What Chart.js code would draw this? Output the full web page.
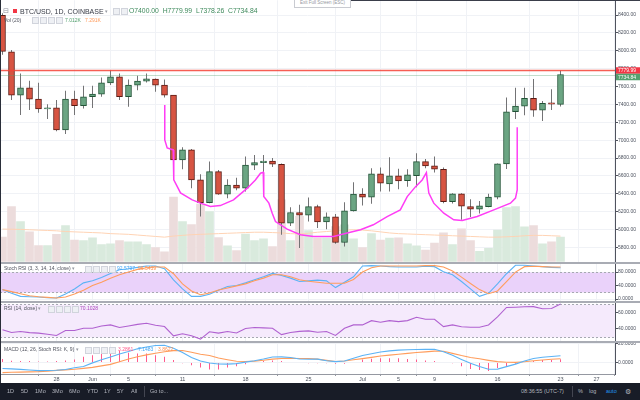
<!DOCTYPE html>
<html>
<head>
<meta charset="utf-8">
<script src="https://cdn.jsdelivr.net/npm/chart.js@4.4.0/dist/chart.umd.min.js"></script>
<style>
  body { margin: 0; width: 640px; height: 400px; overflow: hidden; background: #fff; position: relative; font-family: "Liberation Sans", Arial, sans-serif; }
  canvas { position: absolute; left: 0; }
  .t { position: absolute; white-space: nowrap; line-height: 1; transform: translateY(-50%); }
  .s5 { font-size: 5px; color: #50535e; }
  .ic { display: inline-block; width: 5px; height: 5px; border: 1px solid #d1d4dc; background: #eef0f4; margin-right: 1px; vertical-align: middle; }
  .sep { position: absolute; left: 0; width: 640px; background: #a9acb4; }
  .bar { position: absolute; left: 0; top: 383px; width: 640px; height: 17px; background: #181c27; }
  .tb { position: absolute; top: 391.5px; transform: translateY(-50%); font-size: 5.5px; color: #b2b5be; white-space: nowrap; line-height: 1; }
</style>
</head>
<body>
<canvas id="price" width="640" height="262" style="top:0"></canvas>
<canvas id="stoch" width="640" height="38" style="top:263px"></canvas>
<canvas id="rsi" width="640" height="39" style="top:302px"></canvas>
<canvas id="macd" width="640" height="41" style="top:342px"></canvas>

<div class="sep" style="top:262px;height:1.5px"></div>
<div class="sep" style="top:301px;height:1.5px"></div>
<div class="sep" style="top:341px;height:1.5px"></div>
<div style="position:absolute;left:0;top:0;width:1px;height:383px;background:#2a2e39"></div>
<div style="position:absolute;left:350px;top:0;width:290px;height:1px;background:#3a3e4a"></div>
<div style="position:absolute;left:294px;top:-2px;width:55px;height:8px;border:1px solid #c9cbd1;background:#fff;font-size:4.5px;color:#9598a1;line-height:8px;text-align:center">Exit Full Screen (ESC)</div>

<!-- main header -->
<div class="t" style="left:3px;top:10.7px;font-size:7px;color:#8a8e99;font-family:'DejaVu Sans'">⊟</div>
<div style="position:absolute;left:13px;top:9px;width:3.5px;height:3.5px;background:#f23645"></div>
<div class="t" style="left:20px;top:10.7px;font-size:7px;color:#363a45">BTC/USD, 1D, COINBASE</div>
<div class="t" style="left:105px;top:10.7px;font-size:5px;color:#9598a1">▾</div>
<div class="t" style="left:113px;top:10.7px"><span class="ic"></span><span class="ic"></span></div>
<div class="t" style="left:129px;top:10.7px;font-size:6.8px;color:#3e8a5c">O7400.00&nbsp;&nbsp;H7779.99&nbsp;&nbsp;L7378.26&nbsp;&nbsp;C7734.84</div>

<div class="t s5" style="left:4px;top:19.5px">Vol (20)</div>
<div class="t" style="left:32px;top:19.5px"><span class="ic"></span><span class="ic"></span><span class="ic"></span><span class="ic"></span></div>
<div class="t s5" style="left:65px;top:19.5px;color:#53a06e">7.012K</div>
<div class="t s5" style="left:85px;top:19.5px;color:#ff9a5a">7.291K</div>

<!-- pane labels -->
<div class="t s5" style="left:4px;top:268.3px">Stoch RSI (3, 3, 14, 14, close) <span style="color:#9598a1">▾</span></div>
<div class="t" style="left:85px;top:268.3px"><span class="ic"></span><span class="ic"></span><span class="ic"></span><span class="ic"></span></div>
<div class="t s5" style="left:117px;top:268.3px;color:#42a5f5">92.5797</div>
<div class="t s5" style="left:138px;top:268.3px;color:#ff8f4f">96.5439</div>

<div class="t s5" style="left:4px;top:308.3px">RSI (14, close) <span style="color:#9598a1">▾</span></div>
<div class="t" style="left:48px;top:308.3px"><span class="ic"></span><span class="ic"></span><span class="ic"></span><span class="ic"></span></div>
<div class="t s5" style="left:80px;top:308.3px;color:#ab47bc">70.1028</div>

<div class="t s5" style="left:4px;top:349.3px">MACD (12, 26, Stoch RSI: K, 9) <span style="color:#9598a1">▾</span></div>
<div class="t" style="left:85px;top:349.3px"><span class="ic"></span><span class="ic"></span><span class="ic"></span><span class="ic"></span></div>
<div class="t s5" style="left:118px;top:349.3px;color:#ff5a8c">3.2861</div>
<div class="t s5" style="left:138px;top:349.3px;color:#42a5f5">7.1483</div>
<div class="t s5" style="left:158px;top:349.3px;color:#ff8f4f">3.8622</div>

<!-- bottom toolbar -->
<div class="bar"></div>
<div class="tb" style="left:7px">1D</div>
<div class="tb" style="left:21px">5D</div>
<div class="tb" style="left:35px">1Mo</div>
<div class="tb" style="left:52px">3Mo</div>
<div class="tb" style="left:69px">6Mo</div>
<div class="tb" style="left:87px">YTD</div>
<div class="tb" style="left:104px">1Y</div>
<div class="tb" style="left:117px">5Y</div>
<div class="tb" style="left:131px">All</div>
<div style="position:absolute;left:144px;top:386px;width:1px;height:11px;background:#434651"></div>
<div class="tb" style="left:150px">Go to...</div>
<div class="tb" style="left:521px">08:36:55 (UTC-7)</div>
<div style="position:absolute;left:572px;top:386px;width:1px;height:11px;background:#434651"></div>
<div class="tb" style="left:578px">%</div>
<div class="tb" style="left:589px">log</div>
<div class="tb" style="left:606px;color:#2196f3">auto</div>
<div class="tb" style="left:625px;font-size:7px;font-family:'DejaVu Sans'">⚙</div>

<script>
// BTC/USD daily, 22 May .. 23 Jul 2018 (index 0 = 22 May)
const opens = [8397,7990,7505,7587,7460,7350,7362,7114,7460,7385,7486,7516,7642,7710,7486,7617,7661,7684,7617,7505,6779,6891,6556,6300,6648,6396,6496,6463,6720,6749,6765,6731,6072,6190,6161,6257,6086,6142,5855,6209,6396,6362,6623,6510,6600,6548,6603,6760,6712,6675,6313,6399,6257,6228,6257,6362,6734,7318,7382,7468,7337,7419,7400];
const highs = [8420,8010,7747,7665,7642,7401,7450,7553,7553,7609,7609,7703,7784,7747,7680,7720,7747,7690,7680,7505,6921,6900,6620,6760,6665,6563,6580,6816,6835,6835,6800,6740,6250,6276,6357,6276,6190,6175,6306,6529,6463,6686,6693,6809,6680,6675,6853,6790,6816,6693,6407,6407,6340,6320,6400,6740,7479,7587,7587,7684,7438,7569,7779.99];
const lows = [7955,7450,7282,7337,7307,7237,7100,7069,7282,7356,7360,7486,7617,7449,7374,7560,7647,7542,7479,6720,6675,6463,6145,6295,6390,6351,6440,6425,6667,6560,6700,5941,6040,5792,6089,6016,6004,5840,5810,6201,6268,6287,6425,6425,6450,6480,6473,6686,6637,6295,6290,6108,6139,6180,6250,6340,6678,7237,7280,7263,7214,7337,7378.26];
const closes = [7995,7505,7587,7460,7350,7362,7114,7460,7385,7486,7516,7642,7710,7486,7617,7661,7687,7617,7505,6779,6891,6556,6300,6648,6396,6496,6463,6720,6749,6765,6731,6072,6190,6161,6257,6086,6142,5855,6209,6396,6362,6623,6518,6600,6544,6611,6760,6712,6675,6313,6399,6261,6228,6265,6362,6734,7318,7382,7468,7337,7412,7404,7734.84];
const volumes = [7.0,15.7,11.4,8.5,4.6,4.6,7.8,10.3,6.2,6.0,6.8,4.9,5.1,6.0,5.7,5.7,4.9,4.0,2.8,18.4,11.4,10.6,16.4,14.3,6.9,4.5,3.2,7.9,6.0,6.5,4.3,17.6,6.0,12.9,8.9,6.7,6.7,10.0,10.5,6.5,4.0,8.0,6.2,6.7,6.8,5.1,4.5,3.3,5.3,8.2,4.9,9.4,6.0,3.0,3.8,9.0,15.4,15.7,9.9,10.3,5.1,5.7,7.012];
const volMA = [9.3,9.25,9.2,9.1,9.0,8.9,8.8,8.6,8.5,8.4,8.3,8.2,8.0,7.9,7.8,7.6,7.4,7.2,7.0,7.3,7.5,7.7,7.8,7.9,8.0,8.1,8.2,8.3,8.4,8.4,8.3,8.2,8.0,7.9,8.1,8.4,8.6,8.8,9.0,9.1,9.0,8.8,8.5,8.2,8.0,7.9,7.8,7.7,7.6,7.5,7.4,7.3,7.2,7.1,7.0,7.0,7.1,7.2,7.4,7.5,7.5,7.4,7.291];

const stochK = [28,17,8,7,6,4,3,15,30,48,54,64,76,87,90,94,98,98,90,57,30,8,8,14,26,37,40,48,57,66,76,70,62,52,54,56,54,34,50,66,98,99,98,96,95,95,95,97,96,81,72,52,30,8,17,45,75,100,100,98,96,94,92.58];
const stochD = [28,22,16,10,7,5,3,6,15,26,40,50,62,72,80,88,93,95,95,75,45,24,13,18,27,33,39,45,54,62,72,72,66,57,53,50,47,47,47,58,80,93,98,98,98,98,98,99,99,95,83,65,46,28,16,24,52,80,96,97,96,95,95];
const rsi = [39,35.6,36.8,35.5,34.8,33.5,32,38,38,40.8,40.8,43.5,44.8,41.6,43.5,45.5,46.8,44.5,42.8,31.6,34,31.6,27.6,36.5,34.8,36.8,35,40.5,41.6,41.2,40.8,33,35.6,37,37.6,36,36.8,32,40.8,44.8,44.8,50,48,50,48.8,50,54,51.6,51.6,42.8,44.8,42.5,42,42,44.8,54.5,66,66.3,66.8,67,64.5,64.8,70.1028];
const macd = [-6.4,-6.9,-7.4,-8,-8.7,-8.6,-8.3,-7.6,-5.6,-4.3,-0.5,2.8,5.8,8.9,11.5,14.4,16.3,18,18.2,15,10.5,5.2,1.5,-0.7,-1.7,-1.8,-1.3,0.3,1.8,3.6,5.7,5.9,5.2,3.6,3.3,3.5,1.8,0.8,1.5,4.5,7.4,9.2,11,12.2,13,13.4,13.7,13.8,14,11.3,7.5,3.2,-1,-4.4,-7.2,-7.1,-4.5,-1.8,1.5,4.2,5.4,6.3,7.1483];
const signal = [-10.8,-10.5,-10.3,-10,-9.8,-9.2,-8.5,-7.9,-7.3,-6.3,-5.3,-3.7,-2.1,0.6,3.6,6,8,9.8,11.3,12.5,12.6,10.8,8.7,7.3,4.6,2.9,1.3,0.9,1.4,2.3,3.5,4.2,4.3,4.2,4.2,3.5,2.2,0.9,1.5,2.8,4,5.3,6.8,7.7,8.6,9.6,10.5,11.2,12,11.8,9.6,7.3,5.3,3.8,2.2,0.8,0.2,0,0.7,1.7,2.6,3.3,3.8622];
const hist = [3.5,1.8,1.4,1.4,1,1,1.4,2,3,6,7.7,9.5,11.2,12.3,10.2,9.5,9.5,7.7,6,2.5,-1,-3,-5.5,-7.5,-7.5,-5.5,-4,-2,-0.5,1.5,2,1.5,0.5,-0.5,-1,-1,-1,-1.5,-1.5,0,3,4,4.5,4.5,4.5,3.5,3,2,1.5,0.5,-1,-4,-7,-8,-9,-6,-4,-1.5,0.5,1.5,2.5,2.5,3.2861];

// hand drawn cup / handle path (day index, price)
const drawX = [18.03,18.03,18.3,18.97,19.03,19.78,21.08,22,23.1,24.2,25.67,27.2,28.1,28.67,28.97,29.03,29.03,29.6,29.97,30.33,31.63,33.1,34.56,36.78,38.3,39.78,41.2,42.74,44.2,44.97,45.9,46.63,47.1,47.19,47.37,47.92,49.03,50.14,51.08,52.74,54.59,56.44,57,57.19,57.19];
const drawY = [7393,7002,6913,6891,6555,6410,6332,6295,6257,6268,6332,6463,6555,6630,6641,6592,6369,6295,6183,6089,6004,5941,5922,5922,5960,5997,6053,6145,6220,6369,6480,6555,6637,6555,6407,6295,6183,6108,6100,6145,6220,6295,6351,6444,7144];

const tickDays = [6, 10, 14, 20, 27, 34, 40, 44, 48, 55, 62, 66];
const tickLabels = ['28', 'Jun', '5', '11', '18', '25', 'Jul', '5', '9', '16', '23', '27'];
const priceTicks = [5800, 6000, 6200, 6400, 6600, 6800, 7000, 7200, 7400, 7600, 7800, 8000, 8200, 8400];
const stochTicks = [0, 40, 80];
const stochBand = [20, 80];
const rsiTicks = [40, 60];
const rsiBand = [30, 70];
const macdTicks = [0, 20];

const X_MIN = -2.5 / 9;
const X_MAX = X_MIN + 615 / 9;

const UP = '#6ba583', UP_EDGE = '#225437', DOWN = '#d75442', DOWN_EDGE = '#5b1a13';
const isUp = i => closes[i] >= opens[i];

function xScale(showLabels) {
  return {
    type: 'linear', min: X_MIN, max: X_MAX, offset: false,
    afterBuildTicks: s => { s.ticks = tickDays.map(v => ({ value: v })); },
    afterFit: s => { s.height = showLabels ? 9 : 0; },
    grid: { color: '#f0f2f6', drawTicks: showLabels, tickLength: 2, tickColor: '#9598a1' },
    border: { display: showLabels, color: '#9598a1' },
    ticks: {
      display: showLabels, padding: 1, maxRotation: 0, autoSkip: false, color: '#4c525e',
      font: { size: 5.5, family: 'Liberation Sans', lineHeight: 1 },
      callback: (v, i) => tickLabels[i]
    }
  };
}

function yScale(min, max, ticks, decimals) {
  return {
    position: 'right', min, max,
    afterBuildTicks: s => { s.ticks = ticks.map(v => ({ value: v })); },
    afterFit: s => { s.width = 25; },
    grid: { color: '#f0f2f6', tickLength: 3, tickColor: '#50535e' },
    border: { color: '#50535e' },
    ticks: {
      padding: 0, color: '#4c525e',
      font: { size: 5, family: 'Liberation Sans', lineHeight: 0.1 },
      callback: v => v.toFixed(decimals)
    }
  };
}

const bandPlugin = {
  id: 'band',
  beforeDatasetsDraw(chart, args, opts) {
    if (!opts.range) return;
    const { ctx, chartArea: a, scales: { y } } = chart;
    const top = Math.round(y.getPixelForValue(opts.range[1])) + 0.5;
    const bot = Math.round(y.getPixelForValue(opts.range[0])) + 0.5;
    ctx.save();
    ctx.fillStyle = opts.color;
    ctx.fillRect(a.left, top, a.right - a.left, bot - top);
    ctx.strokeStyle = '#a6a9b1';
    ctx.lineWidth = 1;
    ctx.setLineDash([2, 2]);
    [top, bot].forEach(py => {
      ctx.beginPath(); ctx.moveTo(a.left, py); ctx.lineTo(a.right, py); ctx.stroke();
    });
    ctx.restore();
  }
};

const priceLines = {
  id: 'priceLines',
  afterDatasetsDraw(chart) {
    const { ctx, chartArea: a, scales: { y } } = chart;
    const last = closes.length - 1;
    const yc = Math.round(y.getPixelForValue(closes[last])) + 0.5;
    const yh = y.getPixelForValue(highs[last]);
    ctx.save();
    ctx.strokeStyle = 'rgba(83,160,110,0.35)';
    ctx.lineWidth = 1;
    ctx.beginPath(); ctx.moveTo(a.left, yc); ctx.lineTo(a.right, yc); ctx.stroke();
    ctx.strokeStyle = 'rgba(244,67,54,0.85)';
    ctx.lineWidth = 1.5;
    ctx.beginPath(); ctx.moveTo(a.left, yh); ctx.lineTo(a.right, yh); ctx.stroke();
    ctx.restore();
  },
  afterDraw(chart) {
    const { ctx, chartArea: a, scales: { y } } = chart;
    const last = closes.length - 1;
    const h = 6.5;
    const yh = y.getPixelForValue(highs[last]);
    const yc = Math.max(y.getPixelForValue(closes[last]), yh + h);
    ctx.save();
    ctx.font = '5px "Liberation Sans"';
    ctx.textBaseline = 'middle';
    [[yh, '#f23645', highs[last]], [yc, '#53a06e', closes[last]]].forEach(([py, col, v]) => {
      ctx.fillStyle = col;
      ctx.fillRect(a.right + 1, py - h / 2, 640 - a.right - 1, h);
      ctx.fillStyle = '#fff';
      ctx.fillText(v.toFixed(2), a.right + 3, py + 0.3);
    });
    ctx.restore();
  }
};

Chart.defaults.animation = false;
Chart.defaults.events = [];
Chart.defaults.plugins.legend.display = false;
Chart.defaults.plugins.tooltip.enabled = false;
Chart.defaults.responsive = false;
Chart.defaults.devicePixelRatio = 1;
Chart.defaults.layout.padding = 0;

const pts = arr => arr.map((v, i) => ({ x: i, y: v }));
const lineDs = (data, color, extra) => Object.assign({
  type: 'line', data, borderColor: color, borderWidth: 1.1, pointRadius: 0, tension: 0
}, extra);

new Chart(document.getElementById('price'), {
  type: 'bar',
  data: {
    datasets: [
      lineDs(drawX.map((x, k) => ({ x, y: drawY[k] })), '#ff3df5', { borderWidth: 1.5, order: 0, yAxisID: 'y' }),
      {
        data: opens.map((o, i) => ({ x: i, y: [o, closes[i]] })),
        backgroundColor: opens.map((o, i) => isUp(i) ? UP : DOWN),
        borderColor: opens.map((o, i) => isUp(i) ? UP_EDGE : DOWN_EDGE),
        borderWidth: 1, borderSkipped: false, barThickness: 6, grouped: false, order: 1, yAxisID: 'y'
      },
      {
        data: lows.map((l, i) => ({ x: i, y: [l, highs[i]] })),
        backgroundColor: '#737375', barThickness: 1, inflateAmount: 0, grouped: false, order: 2, yAxisID: 'y'
      },
      lineDs(pts(volMA), '#ffd3b4', { borderWidth: 1, order: 3, yAxisID: 'v' }),
      {
        data: pts(volumes),
        backgroundColor: volumes.map((v, i) => isUp(i) ? '#d9eadd' : '#ecdcdc'),
        barThickness: 8, grouped: false, order: 4, yAxisID: 'v'
      }
    ]
  },
  options: {
    scales: {
      x: xScale(false),
      y: yScale(5639.1, 8566.5, priceTicks, 2),
      v: { display: false, min: 0, max: 74.4 }
    }
  },
  plugins: [priceLines]
});

new Chart(document.getElementById('stoch'), {
  type: 'line',
  data: { datasets: [lineDs(pts(stochD), '#ff9d5c'), lineDs(pts(stochK), '#5cb3f5')] },
  options: {
    scales: { x: xScale(false), y: yScale(-5.0, 106.1, stochTicks, 4) },
    plugins: { band: { range: stochBand, color: '#ead2fa' } }
  },
  plugins: [bandPlugin]
});

new Chart(document.getElementById('rsi'), {
  type: 'line',
  data: { datasets: [lineDs(pts(rsi), '#b061d0')] },
  options: {
    scales: { x: xScale(false), y: yScale(25.6, 72.3, rsiTicks, 4) },
    plugins: { band: { range: rsiBand, color: '#f5eafc' } }
  },
  plugins: [bandPlugin]
});

new Chart(document.getElementById('macd'), {
  type: 'bar',
  data: {
    datasets: [
      lineDs(pts(macd), '#5cb3f5', { order: 0 }),
      lineDs(pts(signal), '#ff9d5c', { order: 1 }),
      { data: pts(hist), backgroundColor: '#ff5a8c', barThickness: 1, inflateAmount: 0, grouped: false, order: 2 }
    ]
  },
  options: {
    scales: { x: xScale(true), y: yScale(-12.3, 21.4, macdTicks, 4) }
  }
});
</script>
</body>
</html>
